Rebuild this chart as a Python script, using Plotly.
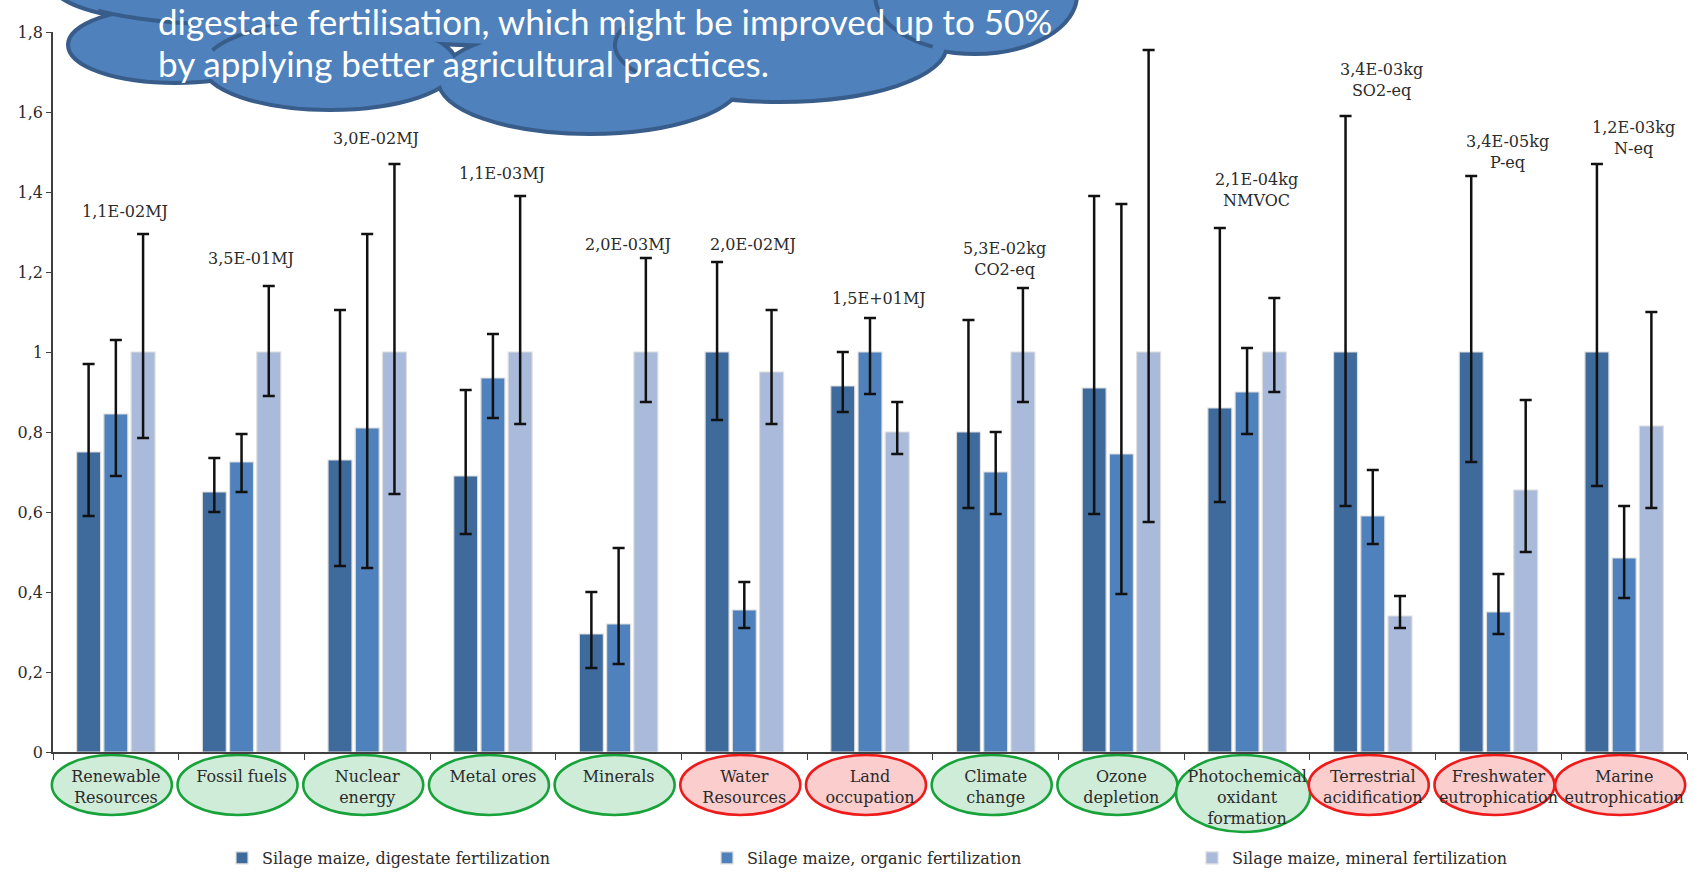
import math
import plotly.graph_objects as go

# Impact categories (tick labels) and per-category functional units
categories = [
    "Renewable<br>Resources", "Fossil fuels", "Nuclear<br>energy", "Metal ores",
    "Minerals", "Water<br>Resources", "Land<br>occupation", "Climate<br>change",
    "Ozone<br>depletion", "Photochemical<br>oxidant<br>formation",
    "Terrestrial<br>acidification", "Freshwater<br>eutrophication",
    "Marine<br>eutrophication",
]
unit_labels = [
    "1,1E-02MJ", "3,5E-01MJ", "3,0E-02MJ", "1,1E-03MJ", "2,0E-03MJ",
    "2,0E-02MJ", "1,5E+01MJ", "5,3E-02kg<br>CO2-eq", "3,1E-09kg<br>CFC-11-eq",
    "2,1E-04kg<br>NMVOC", "3,4E-03kg<br>SO2-eq", "3,4E-05kg<br>P-eq",
    "1,2E-03kg<br>N-eq",
]
# green = digestate scenario performs well, red = it performs worst
verdict = ["good", "good", "good", "good", "good", "bad", "bad",
           "good", "good", "good", "bad", "bad", "bad"]

# Normalised impact (relative to the worst scenario) with min / max range
digestate = [0.75, 0.65, 0.73, 0.69, 0.295, 1.0, 0.915, 0.80, 0.91, 0.86, 1.0, 1.0, 1.0]
digestate_lo = [0.59, 0.60, 0.465, 0.545, 0.21, 0.83, 0.85, 0.61, 0.595, 0.625, 0.615, 0.725, 0.665]
digestate_hi = [0.97, 0.735, 1.105, 0.905, 0.40, 1.225, 1.0, 1.08, 1.39, 1.31, 1.59, 1.44, 1.47]

organic = [0.845, 0.725, 0.81, 0.935, 0.32, 0.355, 1.0, 0.70, 0.745, 0.90, 0.59, 0.35, 0.485]
organic_lo = [0.69, 0.65, 0.46, 0.835, 0.22, 0.31, 0.895, 0.595, 0.395, 0.795, 0.52, 0.295, 0.385]
organic_hi = [1.03, 0.795, 1.295, 1.045, 0.51, 0.425, 1.085, 0.80, 1.37, 1.01, 0.705, 0.445, 0.615]

mineral = [1.0, 1.0, 1.0, 1.0, 1.0, 0.95, 0.80, 1.0, 1.0, 1.0, 0.34, 0.655, 0.815]
mineral_lo = [0.785, 0.89, 0.645, 0.82, 0.875, 0.82, 0.745, 0.875, 0.575, 0.90, 0.31, 0.50, 0.61]
mineral_hi = [1.295, 1.165, 1.47, 1.39, 1.235, 1.105, 0.875, 1.16, 1.755, 1.135, 0.39, 0.88, 1.10]

# Vertical placement (data units) of the unit labels above each group
label_y = [1.3525, 1.235, 1.535, 1.4475, 1.27, 1.27, 1.135, 1.2325,
           1.825, 1.405, 1.68, 1.50, 1.535]

series = [
    ("Silage maize, digestate fertilization", digestate, digestate_lo, digestate_hi, "#3E6A9C"),
    ("Silage maize, organic fertilization", organic, organic_lo, organic_hi, "#4F81BD"),
    ("Silage maize, mineral fertilization", mineral, mineral_lo, mineral_hi, "#A9BADA"),
]

W, H = 1700, 879
ML, MR, MT, MB = 53, 13, 32, 127
PW, PH = W - ML - MR, H - MT - MB


def fx(px):
    return (px - ML) / PW


def fy(py):
    return (H - MB - py) / PH


SERIF = "DejaVu Serif, serif"
TEXT = "#2b2b2b"

fig = go.Figure()
for name, vals, lo, hi, color in series:
    fig.add_trace(go.Bar(
        name=name, x=categories, y=vals,
        marker=dict(color=color, line=dict(color="#dedede", width=1.2)),
        error_y=dict(
            type="data", symmetric=False,
            array=[h - v for h, v in zip(hi, vals)],
            arrayminus=[v - l for v, l in zip(vals, lo)],
            color="#111111", thickness=2.5, width=6,
        ),
    ))

shapes = []
annotations = []

# Ellipses framing each category name
n = len(categories)
for i, (cat, v) in enumerate(zip(categories, verdict)):
    cx = ML + (i + 0.5) * PW / n - 4
    w, h = 120, 60
    if cat.startswith("Photochemical"):
        w, h = 134, 77
    elif cat.startswith("Marine"):
        w = 130
    top = 755
    fill, edge = ("#CFECD8", "#17A23A") if v == "good" else ("#FBCDCD", "#EE1B1B")
    shapes.append(dict(
        type="circle", xref="paper", yref="paper", layer="below",
        x0=fx(cx - w / 2), x1=fx(cx + w / 2), y0=fy(top + h), y1=fy(top),
        fillcolor=fill, line=dict(color=edge, width=2.6),
    ))

# Unit labels above each group of bars
for cat, txt, yy in zip(categories, unit_labels, label_y):
    annotations.append(dict(
        x=cat, y=yy, xref="x", yref="y", text=txt, showarrow=False,
        xshift=9, yanchor="middle",
        font=dict(family=SERIF, size=16, color=TEXT),
    ))

# Callout cloud built from overlapping lobes (pixel geometry: cx, cy, rx, ry)
cloud_lobes = [
    (240, -15, 185, 40),
    (175, 45, 105, 36),
    (330, 65, 125, 43),
    (590, 80, 150, 52),
    (780, 45, 165, 55),
    (975, -5, 100, 57),
    (560, -20, 390, 65),
]
CLOUD_FILL = "#4F81BD"
CLOUD_EDGE = "#385D8A"
for cx, cy, rx, ry in cloud_lobes:
    shapes.append(dict(
        type="circle", xref="paper", yref="paper", layer="above",
        x0=fx(cx - rx), x1=fx(cx + rx), y0=fy(cy + ry), y1=fy(cy - ry),
        fillcolor=CLOUD_EDGE, line=dict(color=CLOUD_EDGE, width=8),
    ))
for cx, cy, rx, ry in cloud_lobes:
    shapes.append(dict(
        type="circle", xref="paper", yref="paper", layer="above",
        x0=fx(cx - rx), x1=fx(cx + rx), y0=fy(cy + ry), y1=fy(cy - ry),
        fillcolor=CLOUD_FILL, line=dict(width=0),
    ))


def arc_path(cx, cy, rx, ry, a0, a1, steps=24):
    pts = []
    for k in range(steps + 1):
        a = math.radians(a0 + (a1 - a0) * k / steps)
        pts.append((fx(cx + rx * math.cos(a)), fy(cy + ry * math.sin(a))))
    return "M " + " L ".join(f"{x:.5f},{y:.5f}" for x, y in pts)


# Interior arcs of the cloud outline
inner_arcs = [
    ((240, -15, 185, 40), 105, 140),
    ((975, -5, 100, 57), 115, 175),
    ((330, 65, 125, 43), 200, 235),
    ((780, 45, 165, 55), 150, 200),
]
for (cx, cy, rx, ry), a0, a1 in inner_arcs:
    shapes.append(dict(
        type="path", xref="paper", yref="paper", layer="above",
        path=arc_path(cx, cy, rx, ry, a0, a1),
        line=dict(color=CLOUD_EDGE, width=4),
    ))

cloud_lines = [
    ("digestate fertilisation, which might be improved up to 50%", 21),
    ("by applying better agricultural practices.", 63),
]
for txt, py in cloud_lines:
    annotations.append(dict(
        xref="paper", yref="paper", x=fx(156), y=fy(py),
        xanchor="left", yanchor="middle", align="left", showarrow=False,
        text=txt,
        font=dict(family="Lato, Open Sans, sans-serif", size=35, color="#FFFFFF"),
    ))

fig.update_layout(
    width=W, height=H,
    margin=dict(l=ML, r=MR, t=MT, b=MB, pad=0, autoexpand=False),
    paper_bgcolor="white", plot_bgcolor="white",
    separators=", ",
    barmode="group", bargap=0.35, bargroupgap=0.12,
    shapes=shapes, annotations=annotations,
    showlegend=True,
    legend=dict(
        orientation="h", x=fx(222), y=fy(858), xanchor="left", yanchor="middle",
        entrywidth=440, entrywidthmode="pixels",
        font=dict(family=SERIF, size=16, color=TEXT),
        itemwidth=30, tracegroupgap=0, bgcolor="rgba(0,0,0,0)",
    ),
    xaxis=dict(
        showline=True, linecolor="#404040", linewidth=1.5,
        ticks="outside", tickson="boundaries", ticklen=6, tickcolor="#404040",
        tickangle=0,
        tickfont=dict(family=SERIF, size=16, color=TEXT),
        ticklabelstandoff=9, showgrid=False, zeroline=False, automargin=False,
    ),
    yaxis=dict(
        range=[0, 1.8], dtick=0.2, tick0=0,
        showline=True, linecolor="#404040", linewidth=1.5,
        ticks="outside", ticklen=5, tickcolor="#404040",
        tickfont=dict(family=SERIF, size=16, color=TEXT),
        showgrid=False, zeroline=False, automargin=False,
    ),
)

fig.write_html("out.html")
